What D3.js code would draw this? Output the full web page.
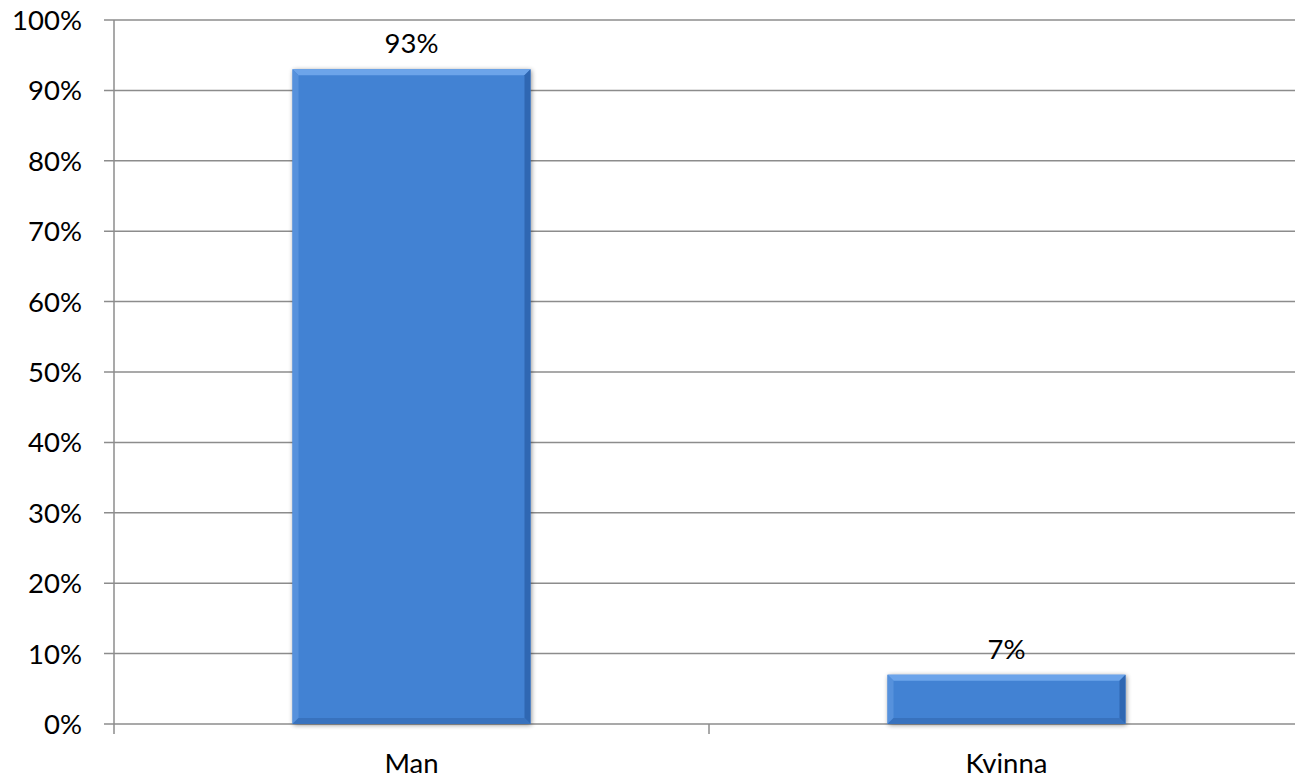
<!DOCTYPE html>
<html><head><meta charset="utf-8">
<script src="https://cdn.jsdelivr.net/npm/d3@7"></script>
<style>body{margin:0;background:#fff;}svg{display:block;font-family:Lato,"Open Sans",sans-serif;}</style>
</head><body><svg id="c" width="1295" height="782"></svg>
<script>
const categories = ["Man", "Kvinna"];
const values = [0.93, 0.07];
const labels = ["93%", "7%"];
const yTicks = [0,0.1,0.2,0.3,0.4,0.5,0.6,0.7,0.8,0.9,1.0];

const svg = d3.select("#c");
const L = 114, R = 1304, T = 20, B = 724;
const FS = 27.5;
const x = d3.scaleBand().domain(categories).range([L, R]).paddingInner(0).paddingOuter(0);
const y = d3.scaleLinear().domain([0,1]).range([B, T]);

// gridlines
svg.append("g").selectAll("line").data(yTicks).join("line")
  .attr("x1", L-10).attr("x2", 1295).attr("y1", d=>y(d)).attr("y2", d=>y(d))
  .attr("stroke", "#8c8c8c").attr("stroke-width", 1.5);
// y axis
svg.append("line").attr("x1", L).attr("x2", L).attr("y1", T).attr("y2", B+10)
  .attr("stroke", "#8c8c8c").attr("stroke-width", 1.5);
// category tick
svg.append("line").attr("x1", L + x.step()).attr("x2", L + x.step()).attr("y1", B).attr("y2", B+10)
  .attr("stroke", "#8c8c8c").attr("stroke-width", 1.5);

// y labels
svg.append("g").selectAll("text").data(yTicks).join("text")
  .attr("x", 82).attr("y", d=>y(d)).attr("dy", "0.36em").attr("text-anchor","end")
  .attr("font-size", FS).attr("fill", "#000").text(d=>d3.format(".0%")(d));

// bars with bevel
const bw = x.bandwidth()*0.4;
const defs = svg.append("defs");
const f = defs.append("filter").attr("id","sh").attr("x","-10%").attr("y","-10%").attr("width","130%").attr("height","130%");
f.append("feGaussianBlur").attr("in","SourceAlpha").attr("stdDeviation",2.5);
f.append("feOffset").attr("dx",1).attr("dy",1).attr("result","b");
f.append("feComponentTransfer").append("feFuncA").attr("type","linear").attr("slope",0.45);
const m = f.append("feMerge"); m.append("feMergeNode"); m.append("feMergeNode").attr("in","SourceGraphic");

const bars = svg.append("g").selectAll("g").data(categories).join("g");
bars.each(function(c, i){
  const g = d3.select(this);
  const x0 = x(c) + (x.bandwidth()-bw)/2, x1 = x0 + bw;
  const y0 = y(values[i]), y1 = y(0);
  const b = 6;
  g.append("rect").attr("x", x0).attr("y", y0).attr("width", bw).attr("height", y1-y0)
    .attr("fill", "#4282D3").attr("filter","url(#sh)");
  const poly = (pts, col) => g.append("polygon").attr("points", pts.map(p=>p.join(",")).join(" ")).attr("fill", col);
  poly([[x0,y0],[x1,y0],[x1-b,y0+b],[x0+b,y0+b]], "#6CA4EA");
  poly([[x0,y0],[x0+b,y0+b],[x0+b,y1-b],[x0,y1]], "#5691DC");
  poly([[x1,y0],[x1,y1],[x1-b,y1-b],[x1-b,y0+b]], "#2F67B2");
  poly([[x0,y1],[x0+b,y1-b],[x1-b,y1-b],[x1,y1]], "#3872BE");
  g.append("text").attr("x", x0 + bw/2).attr("y", y0 - 16).attr("text-anchor","middle")
    .attr("font-size", FS).attr("fill","#000").text(labels[i]);
});

// category labels
svg.append("g").selectAll("text").data(categories).join("text")
  .attr("x", d=>x(d)+x.bandwidth()/2).attr("y", 773).attr("text-anchor","middle")
  .attr("font-size", FS).attr("fill","#000").text(d=>d);
</script></body></html>
